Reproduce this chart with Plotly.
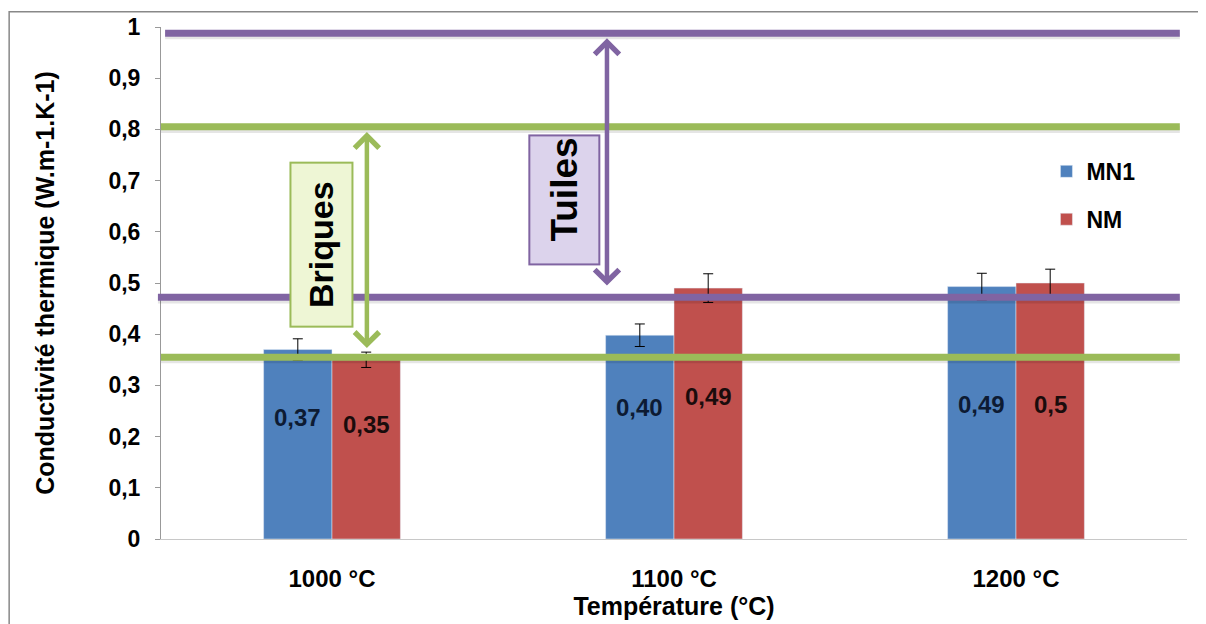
import plotly.graph_objects as go

categories = ["1000 °C", "1100 °C", "1200 °C"]
mn1_values = [0.37, 0.398, 0.493]
nm_values = [0.35, 0.49, 0.50]
mn1_errors = [0.021, 0.022, 0.026]
nm_errors = [0.015, 0.028, 0.027]
mn1_labels = ["0,37", "0,40", "0,49"]
nm_labels = ["0,35", "0,49", "0,5"]
mn1_label_y = [0.238, 0.257, 0.263]
nm_label_y = [0.224, 0.279, 0.263]

brick_range = [0.355, 0.805]
tile_range = [0.472, 0.988]

BLUE = "#4F81BD"
RED = "#C0504D"
PURPLE = "#8064A2"
GREEN = "#9BBB59"
FONT = "Liberation Sans"

fig = go.Figure()
fig.add_trace(go.Bar(
    name="MN1", x=categories, y=mn1_values, marker_color=BLUE,
    error_y=dict(type="data", array=mn1_errors, color="black", thickness=1, width=5),
    legendgroup="a",
))
fig.add_trace(go.Bar(
    name="NM", x=categories, y=nm_values, marker_color=RED,
    error_y=dict(type="data", array=nm_errors, color="black", thickness=1, width=5),
    legendgroup="b",
))

# data labels
for i, (t, yv) in enumerate(zip(mn1_labels, mn1_label_y)):
    fig.add_annotation(x=i - 0.1, y=yv, text=f"<b>{t}</b>", showarrow=False,
                       font=dict(family=FONT, size=24, color="#0d1b33"))
for i, (t, yv) in enumerate(zip(nm_labels, nm_label_y)):
    fig.add_annotation(x=i + 0.1, y=yv, text=f"<b>{t}</b>", showarrow=False,
                       font=dict(family=FONT, size=24, color="#1a0c0c"))

shapes = []
def hline(y, color, x0, x1):
    shapes.append(dict(type="line", xref="paper", yref="y", x0=x0, x1=x1,
                       y0=y - 0.005, y1=y - 0.005,
                       line=dict(color="rgba(0,0,0,0.10)", width=7)))
    shapes.append(dict(type="line", xref="paper", yref="y", x0=x0, x1=x1,
                       y0=y, y1=y, line=dict(color=color, width=7)))

hline(tile_range[1], PURPLE, 0.004, 0.993)
hline(brick_range[1], GREEN, 0.0, 0.993)
hline(tile_range[0], PURPLE, -0.003, 0.993)
hline(brick_range[0], GREEN, 0.0, 0.993)

# outer chart border
shapes.append(dict(type="rect", xref="paper", yref="paper", x0=-0.148, x1=1.06,
                   y0=-0.2, y1=1.03, line=dict(color="#888", width=1.5)))

# double arrows
fig.add_annotation(x=0.102, y=brick_range[1] - 0.01, ax=0.102, ay=brick_range[0] + 0.015,
                   xref="x", yref="y", axref="x", ayref="y", text="", showarrow=True,
                   arrowhead=4, startarrowhead=4, arrowside="end+start", arrowsize=1.05,
                   startarrowsize=1.05, arrowwidth=4.5, arrowcolor=GREEN)
fig.add_annotation(x=0.804, y=tile_range[1] - 0.01, ax=0.804, ay=tile_range[0] + 0.02,
                   xref="x", yref="y", axref="x", ayref="y", text="", showarrow=True,
                   arrowhead=4, startarrowhead=4, arrowside="end+start", arrowsize=1.05,
                   startarrowsize=1.05, arrowwidth=4.5, arrowcolor=PURPLE)

# labelled boxes
fig.add_annotation(x=-0.032, y=0.575, text="<b>Briques</b>", showarrow=False, textangle=-90,
                   font=dict(family=FONT, size=34, color="black"), bgcolor="#EEF6D5",
                   bordercolor=GREEN, borderwidth=2, width=160, height=58)
fig.add_annotation(x=0.678, y=0.663, text="<b>Tuiles</b>", showarrow=False, textangle=-90,
                   font=dict(family=FONT, size=37, color="black"), bgcolor="#DCD3EC",
                   bordercolor=PURPLE, borderwidth=2, width=125, height=66, align="right")

fig.update_layout(
    width=1206, height=624,
    margin=dict(l=153, r=27, t=19, b=93),
    paper_bgcolor="white", plot_bgcolor="white",
    separators=", ",
    barmode="group", bargap=0.6, bargroupgap=0,
    shapes=shapes,
    font=dict(family=FONT, color="black"),
    legend=dict(x=0.863, y=0.76, xanchor="left", yanchor="top",
                font=dict(family=FONT, size=23, weight="bold"),
                tracegroupgap=15, traceorder="grouped", bgcolor="rgba(0,0,0,0)"),
    xaxis=dict(type="category", range=[-0.5, 2.5], showline=True, linecolor="#C8C8C8",
               ticks="", ticklabelstandoff=18, automargin=False,
               tickfont=dict(family=FONT, size=24, weight="bold"),
               title=dict(text="Température (°C)", standoff=6,
                          font=dict(family=FONT, size=25, weight="bold"))),
    yaxis=dict(range=[0, 1], dtick=0.1, showgrid=False, showline=True, linecolor="#999",
               ticks="outside", ticklen=5, tickcolor="#999", zeroline=False,
               ticklabelstandoff=10, automargin=False,
               tickfont=dict(family=FONT, size=23, weight="bold"), tickformat=".1~f",
               title=dict(text="Conductivité thermique (W.m-1.K-1)", standoff=46,
                          font=dict(family=FONT, size=25, weight="bold"))),
)

fig.write_html("out.html", post_script="document.body.style.overflow='hidden';")
